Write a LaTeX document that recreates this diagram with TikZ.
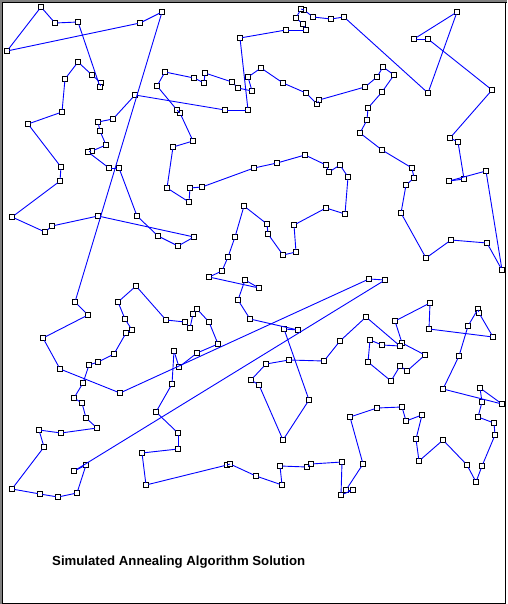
\documentclass[tikz,border=0pt]{standalone}
\usepackage{fontspec}
\setmainfont{Liberation Sans}
\definecolor{tourblue}{RGB}{0,0,255}
\definecolor{frame}{RGB}{128,128,128}
\tikzset{
  city/.style={draw=black, fill=white, rectangle, minimum size=4.4pt, inner sep=0pt, line width=0.8pt},
  tour/.style={draw=tourblue, line width=0.9pt, line cap=round},
  caption/.style={anchor=base west, inner sep=0pt, font=\bfseries\fontsize{13.2}{15}\selectfont}
}
\begin{document}
\begin{tikzpicture}[x=1pt,y=-1pt]
\useasboundingbox (0,0) rectangle (507,604);
\fill[white] (0,0) rectangle (507,604);
\draw[frame, line width=2pt] (1,604) -- (1,1) -- (507,1);
\draw[black, line width=1pt] (2.5,604) -- (2.5,2.5) -- (507,2.5);
\draw[black, line width=1pt] (2,603) -- (505.5,603) -- (505.5,2);
\foreach \px/\py [count=\i] in {7/51, 140/23, 162/12, 75/302, 88/315, 43/338, 60/369, 120/393, 369/279, 385/280, 74/471, 86/465, 77/493, 58/497, 40/494, 12/489, 44/447, 39/430, 61/433, 97/428, 86/418, 82/403, 74/398, 83/383, 89/365, 98/362, 114/354, 126/333, 132/330, 125/319, 118/302, 136/286, 166/320, 185/322, 190/328, 193/314, 197/309, 209/322, 218/344, 197/353, 179/367, 174/351, 172/384, 156/412, 178/433, 178/449, 142/453, 146/485, 227/465, 230/464, 256/476, 282/485, 280/466, 307/467, 311/464, 342/462, 341/495, 353/490, 346/490, 363/464, 350/417, 377/408, 402/407, 406/421, 422/415, 416/439, 419/461, 443/440, 467/465, 476/482, 482/466, 495/435, 494/423, 478/417, 482/402, 480/388, 502/404, 443/389, 459/356, 468/326, 478/309, 479/313, 493/337, 429/329, 430/303, 395/321, 402/343, 425/355, 407/371, 400/366, 391/381, 368/362, 370/340, 382/345, 400/346, 366/317, 340/341, 324/361, 289/360, 266/364, 251/380, 259/385, 283/440, 309/400, 284/329, 298/330, 250/319, 238/300, 245/280, 259/288, 209/277, 222/271, 228/257, 235/237, 244/206, 267/224, 268/234, 283/255, 296/252, 294/225, 326/208, 345/214, 348/177, 340/165, 329/172, 326/165, 305/155, 277/163, 254/168, 202/187, 190/188, 189/202, 167/188, 173/147, 193/141, 180/113, 177/110, 157/86, 165/72, 194/78, 204/83, 205/73, 232/82, 238/88, 252/91, 248/77, 261/68, 283/83, 306/93, 317/104, 319/100, 365/87, 377/77, 383/67, 394/75, 382/92, 368/108, 367/120, 360/133, 382/150, 412/168, 414/178, 406/185, 401/213, 426/258, 451/240, 487/243, 502/270, 486/171, 449/181, 464/179, 458/142, 450/138, 492/90, 428/39, 414/39, 457/12, 428/93, 344/17, 331/19, 313/17, 304/10, 301/9, 296/18, 303/24, 306/30, 286/30, 240/38, 248/110, 225/110, 135/95, 113/119, 98/122, 100/131, 106/145, 92/151, 88/152, 109/168, 119/168, 137/216, 158/236, 178/246, 194/237, 98/216, 52/226, 45/232, 12/217, 60/181, 61/167, 28/124, 62/112, 65/79, 78/62, 92/75, 101/83, 100/87, 78/22, 55/23, 41/7}
  { \node[city] (p\i) at (\px,\py) {}; \xdef\npts{\i} }
\foreach \i [remember=\i as \j (initially 1)] in {2,...,\npts}
  { \draw[tour] (p\j) -- (p\i); }
\draw[tour] (p\npts) -- (p1);
\node[caption] (title) at (52,565) {Simulated Annealing Algorithm Solution};
\end{tikzpicture}
\end{document}
